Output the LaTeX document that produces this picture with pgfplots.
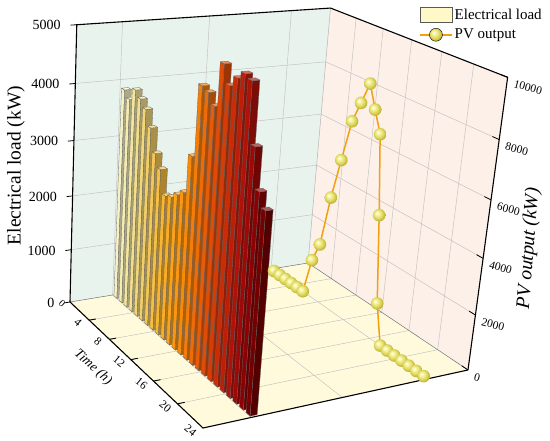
\documentclass[border=0pt]{standalone}
\usepackage{pgfplots}
\pgfplotsset{compat=1.18}
\usepackage{pgfplotstable}
\usepackage{fontspec}
\setmainfont{Liberation Serif}

\newcommand\fz[1]{\fontsize{#1}{#1}\selectfont}

% perspective projection of (t [h], depth v in 0..1, height s in 0..1) to the page
\pgfmathdeclarefunction{projx}{3}{%
  \pgfmathparse{(101.02*(#1)/24+266.39*(#2)+1.37*(#3)+70)/(1-0.15754*(#1)/24+0.09218*(#2)-0.0703*(#3))}%
}
\pgfmathdeclarefunction{projy}{3}{%
  \pgfmathparse{441-(58.57*(#1)/24-14.76*(#2)-279*(#3)+302)/(1-0.15754*(#1)/24+0.09218*(#2)-0.0703*(#3))}%
}

\newcommand\Poly[2]{%
  \gdef\polypts{}%
  \foreach \pa/\pb/\pc in {#2}{%
    \pgfmathsetmacro\qx{projx(\pa,\pb,\pc)}%
    \pgfmathsetmacro\qy{projy(\pa,\pb,\pc)}%
    \xdef\polypts{\polypts(\qx,\qy)}%
  }%
  \edef\polycmd{\noexpand\addplot[\unexpanded{#1},forget plot,mark=none] coordinates {\polypts};}%
  \polycmd
}
\newcommand\Lbl[5]{%
  \pgfmathsetmacro\qx{projx(#2,#3,#4)}%
  \pgfmathsetmacro\qy{projy(#2,#3,#4)}%
  \edef\lblcmd{\noexpand\node[\unexpanded{#1}] at (axis cs:\qx,\qy) {#5};}%
  \lblcmd
}

% pale yellow sphere
\pgfdeclareradialshading{pvballsh}{\pgfpoint{-9bp}{9bp}}{%
  rgb(0bp)=(1,1,0.95);
  rgb(8bp)=(0.96,0.95,0.62);
  rgb(18bp)=(0.88,0.85,0.38);
  rgb(26bp)=(0.76,0.72,0.22);
  rgb(50bp)=(0.50,0.46,0.10)}
\pgfdeclareplotmark{pvb}{%
  \pgfpathcircle{\pgfpointorigin}{\pgfplotmarksize}%
  \pgfshadepath{pvballsh}{0}%
  \pgfusepath{discard}%
}

\definecolor{wallg}{RGB}{233,243,237}
\definecolor{wallp}{RGB}{253,240,233}
\definecolor{floorc}{RGB}{255,250,220}
\definecolor{gridc}{RGB}{192,192,192}
\definecolor{pvline}{RGB}{242,160,15}
\definecolor{legfill}{RGB}{255,249,200}
\definecolor{barc0}{RGB}{246,241,196}
\definecolor{barc1}{RGB}{244,236,178}
\definecolor{barc2}{RGB}{243,230,160}
\definecolor{barc3}{RGB}{242,222,140}
\definecolor{barc4}{RGB}{241,214,122}
\definecolor{barc5}{RGB}{242,206,104}
\definecolor{barc6}{RGB}{244,198,86}
\definecolor{barc7}{RGB}{246,190,66}
\definecolor{barc8}{RGB}{248,182,48}
\definecolor{barc9}{RGB}{249,172,36}
\definecolor{barc10}{RGB}{250,162,26}
\definecolor{barc11}{RGB}{250,150,16}
\definecolor{barc12}{RGB}{248,138,10}
\definecolor{barc13}{RGB}{244,124,8}
\definecolor{barc14}{RGB}{238,108,8}
\definecolor{barc15}{RGB}{230,92,8}
\definecolor{barc16}{RGB}{222,76,8}
\definecolor{barc17}{RGB}{212,60,8}
\definecolor{barc18}{RGB}{202,44,8}
\definecolor{barc19}{RGB}{190,30,8}
\definecolor{barc20}{RGB}{175,18,8}
\definecolor{barc21}{RGB}{158,8,6}
\definecolor{barc22}{RGB}{140,2,4}
\definecolor{barc23}{RGB}{118,0,0}

\pgfplotstableread{
t load
0.5 3860
1.5 3750
2.5 3970
3.5 3870
4.5 3750
5.5 3490
6.5 3110
7.5 2900
8.5 2510
9.5 2560
10.5 2670
11.5 2780
12.5 3450
13.5 4650
14.5 4600
15.5 4440
16.5 5150
17.5 4870
18.5 5040
19.5 5160
20.5 5110
21.5 4180
22.5 3560
23.5 3340
}\loadtable

\pgfplotstableread{
t pv
0.5 0
1.5 0
2.5 0
3.5 0
4.5 0
5.5 0
6.5 1400
7.5 2170
8.5 4100
9.5 5620
10.5 7140
11.5 7900
12.5 8680
13.5 7900
14.5 7170
15.5 4460
16.5 1400
17.5 0
18.5 0
19.5 0
20.5 0
21.5 0
22.5 0
23.5 0
}\pvtable

\begin{document}
\begin{tikzpicture}
\begin{axis}[x=1pt,y=1pt,xmin=0,xmax=550,ymin=0,ymax=441,hide axis,clip=false,enlargelimits=false,
  legend style={at={(axis cs:419,434)},anchor=north west,draw=none,fill=none,inner sep=0pt,
    font=\fz{15},row sep=4pt},
  legend cell align=left]
\addplot[draw=none,forget plot] coordinates {(0,0) (550,441)};
% walls and floor
\Poly{fill=floorc,draw=none}{0/0/0, 24/0/0, 24/1/0, 0/1/0}
\Poly{fill=wallg,draw=none}{0/0/0, 0/1/0, 0/1/1, 0/0/1}
\Poly{fill=wallp,draw=none}{0/1/0, 24/1/0, 24/1/1, 0/1/1}
% grid lines
\foreach \sq in {0.2,0.4,0.6,0.8}{%
  \Poly{gridc,line width=0.45pt}{0/0/\sq, 0/1/\sq}
  \Poly{gridc,line width=0.45pt}{0/1/\sq, 24/1/\sq}
}
\foreach \tq in {4,8,12,16,20}{%
  \Poly{gridc,line width=0.45pt}{\tq/0/0, \tq/1/0}
  \Poly{gridc,line width=0.45pt}{\tq/1/0, \tq/1/1}
}
\foreach \vq in {0.16667,0.5,0.83333}{%
  \Poly{gridc,line width=0.45pt}{0/\vq/0, 24/\vq/0}
  \Poly{gridc,line width=0.45pt}{0/\vq/0, 0/\vq/1}
}
\Poly{black!55,line width=0.5pt}{0/0/0, 0/1/0, 24/1/0}
\Poly{black!30,line width=0.5pt}{0/1/0, 0/1/1}
% PV output
\addplot[pvline,line width=1.5pt,mark=pvb,mark size=6.3pt,forget plot]
  table[x expr={projx(\thisrow{t},0.8333,\thisrow{pv}/10000)},
        y expr={projy(\thisrow{t},0.8333,\thisrow{pv}/10000)}] {\pvtable};
% bars
\def\va{0.168}\def\vb{0.193}
\pgfplotsinvokeforeach{0,...,23}{%
  \pgfplotstablegetelem{#1}{t}\of\loadtable
  \pgfmathsetmacro\bt{\pgfplotsretval}%
  \pgfplotstablegetelem{#1}{load}\of\loadtable
  \pgfmathsetmacro\bs{\pgfplotsretval/5000}%
  \pgfmathsetmacro\ta{\bt-0.3}%
  \pgfmathsetmacro\tb{\bt+0.3}%
  \Poly{fill=barc#1,draw=black!60,line width=0.3pt}{\ta/\va/0, \tb/\va/0, \tb/\va/\bs, \ta/\va/\bs, \ta/\va/0}
  \Poly{fill=barc#1!70!black,draw=black!60,line width=0.3pt}{\tb/\va/0, \tb/\vb/0, \tb/\vb/\bs, \tb/\va/\bs, \tb/\va/0}
  \Poly{fill=barc#1!65!white,draw=black!60,line width=0.3pt}{\ta/\va/\bs, \tb/\va/\bs, \tb/\vb/\bs, \ta/\vb/\bs, \ta/\va/\bs}
}
% box lines
\Poly{black,line width=1.1pt}{0/0/0, 0/0/1, 0/1/1, 24/1/1, 24/1/0}
\Poly{black,line width=1.1pt}{0/0/0, 24/0/0, 24/1/0}
\foreach \sq in {0,0.2,0.4,0.6,0.8,1}{%
  \Poly{black,line width=0.8pt}{0/0/\sq, 0/-0.022/\sq}
  \Poly{black,line width=0.8pt}{24/1/\sq, 23.2/1/\sq}
}
\foreach \tq in {4,8,12,16,20}{%
  \Poly{black,line width=0.9pt}{\tq/0/0, \tq/0.025/0}
}
% tick labels
\foreach \sq/\lab in {0/0,0.2/1000,0.4/2000,0.6/3000,0.8/4000,1/5000}{%
  \Lbl{anchor=east,font=\fz{14},xshift=-5.5pt}{0}{-0.025}{\sq}{\lab}
}
\foreach \sq/\lab in {0/0,0.2/2000,0.4/4000,0.6/6000,0.8/8000,1/10000}{%
  \Lbl{anchor=west,xshift=3pt,yshift=-5.5pt,rotate=-15,font=\fz{11.5}}{24}{1}{\sq}{\lab}
}
\Lbl{rotate=-40,font=\fz{10},inner sep=1pt}{0}{-0.03}{0}{0}
\foreach \tq in {4,8,12,16,20,24}{%
  \Lbl{rotate=-40,font=\fz{11.5},inner sep=1pt}{\tq}{-0.042}{0}{\tq}
}
% axis titles
\node[rotate=90,font=\fz{19.5}] at (axis cs:16,275.5) {Electrical load (kW)};
\node[rotate=85.5,font=\itshape\fz{19.5}] at (axis cs:529,192.5) {PV output (kW)};
\node[rotate=-42,font=\itshape\fz{13.5},inner sep=1pt] at (axis cs:93,73.5) {Time (h)};
% legend
\addlegendimage{legend image code/.code={\draw[fill=legfill,draw=black!65,line width=0.6pt] (0pt,-7pt) rectangle (32pt,7.5pt);}}
\addlegendentry{Electrical load}
\addlegendimage{legend image code/.code={\draw[pvline,line width=1.5pt] (0pt,0pt) -- (32pt,0pt); \shade[shading=pvballsh] (16pt,0pt) circle (6.5pt);}}
\addlegendentry{PV output}
\end{axis}
\end{tikzpicture}
\end{document}
